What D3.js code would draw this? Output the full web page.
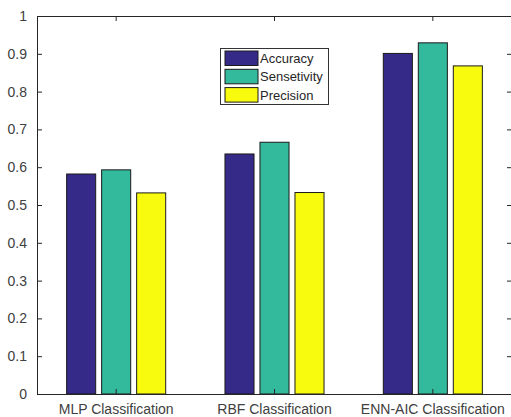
<!DOCTYPE html>
<html><head><meta charset="utf-8">
<script src="https://cdn.jsdelivr.net/npm/d3@7"></script>
<style>body{margin:0;background:#fff}svg{display:block}</style>
</head><body>
<svg id="c" width="511" height="417"></svg>
<script>
const categories = ["MLP Classification", "RBF Classification", "ENN-AIC Classification"];
const seriesNames = ["Accuracy", "Sensetivity", "Precision"];
const accuracy = [0.582, 0.635, 0.901];
const sensitivity = [0.593, 0.666, 0.929];
const precision = [0.532, 0.533, 0.868];
const yTicks = [0, 0.1, 0.2, 0.3, 0.4, 0.5, 0.6, 0.7, 0.8, 0.9, 1];
const yTickLabels = ["0", "0.1", "0.2", "0.3", "0.4", "0.5", "0.6", "0.7", "0.8", "0.9", "1"];
const colors = ["#352a87", "#33b99c", "#f9fb0e"];

const seriesValues = [accuracy, sensitivity, precision];
const svg = d3.select("#c");
const L = 37, R = 512, T = 16, B = 394;
const font = "'Liberation Sans', Arial, sans-serif";
const textCol = "#404040", axisCol = "#262626";

const x = d3.scaleBand().domain(categories).range([L, R]).paddingInner(0).paddingOuter(0);
const xs = d3.scaleBand().domain(seriesNames).range([-52.5, 52.5]).paddingInner(0.17).paddingOuter(0.085);
const y = d3.scaleLinear().domain([0, 1]).range([B, T]);

// bars
categories.forEach((c, ci) => {
  const cx = x(c) + x.bandwidth() / 2;
  seriesNames.forEach((s, si) => {
    const v = seriesValues[si][ci];
    svg.append("rect")
      .attr("x", cx + xs(s))
      .attr("y", y(v))
      .attr("width", xs.bandwidth())
      .attr("height", y(0) - y(v))
      .attr("fill", colors[si])
      .attr("stroke", "#1a1a1a")
      .attr("stroke-width", 1);
  });
});

// axes
const tickLen = 5;
const gL = svg.append("g").attr("transform", `translate(${L},0)`)
  .call(d3.axisLeft(y).tickValues(yTicks).tickFormat((d, i) => yTickLabels[i]).tickSizeInner(-tickLen).tickSizeOuter(0).tickPadding(10));
const gR = svg.append("g").attr("transform", `translate(${R},0)`)
  .call(d3.axisRight(y).tickValues(yTicks).tickFormat("").tickSizeInner(-tickLen).tickSizeOuter(0));
const gB = svg.append("g").attr("transform", `translate(0,${B})`)
  .call(d3.axisBottom(x).tickSizeInner(-tickLen).tickSizeOuter(0));
const gT = svg.append("g").attr("transform", `translate(0,${T})`)
  .call(d3.axisTop(x).tickFormat("").tickSizeInner(-tickLen).tickSizeOuter(0));
[gL, gR, gB, gT].forEach(g => {
  g.selectAll("path.domain").attr("stroke", axisCol).attr("stroke-width", 1);
  g.selectAll(".tick line").attr("stroke", axisCol);
  g.selectAll("text").attr("fill", textCol).style("font-family", font).style("font-size", "14px");
});
gL.selectAll(".tick line").attr("x2", tickLen);
gB.selectAll(".tick text").attr("y", 20).attr("dy", "0");

// legend
const lg = svg.append("g");
lg.append("rect").attr("x", 220.5).attr("y", 48.5).attr("width", 108).attr("height", 56)
  .attr("fill", "#fff").attr("stroke", "#333").attr("stroke-width", 1);
seriesNames.forEach((s, i) => {
  const yy = 51 + i * 18.3;
  lg.append("rect").attr("x", 225).attr("y", yy).attr("width", 33).attr("height", 14.5)
    .attr("fill", colors[i]).attr("stroke", "#1a1a1a").attr("stroke-width", 1);
  lg.append("text").attr("x", 260).attr("y", yy + 7.5).attr("dy", "0.35em")
    .attr("fill", "#262626").style("font-family", font).style("font-size", "13px").text(s);
});
</script>
</body></html>
